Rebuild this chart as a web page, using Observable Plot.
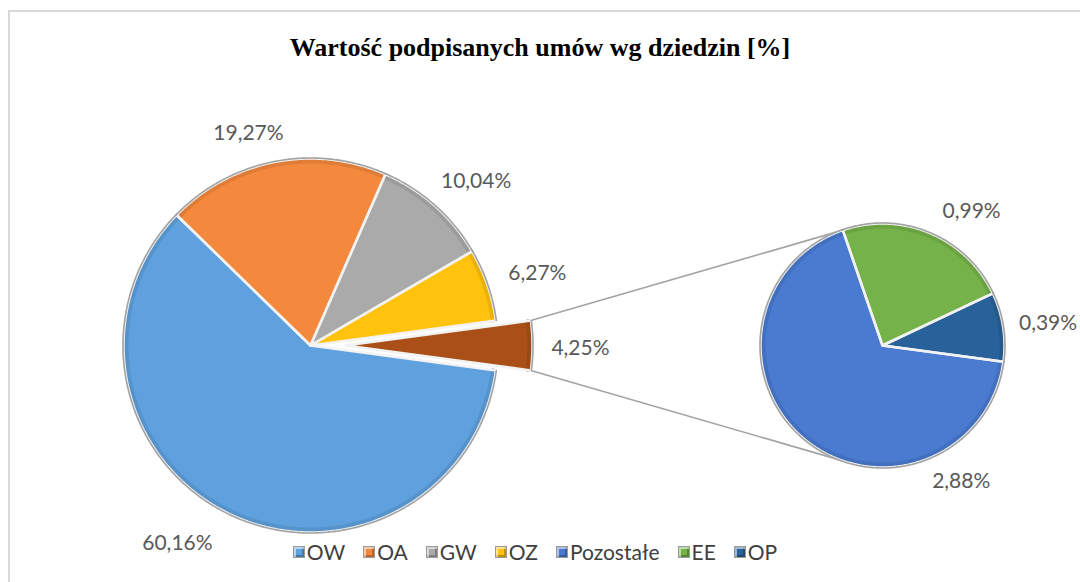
<!DOCTYPE html>
<html>
<head>
<meta charset="utf-8">
<script src="https://cdn.jsdelivr.net/npm/d3@7"></script>
<script src="https://cdn.jsdelivr.net/npm/@observablehq/plot@0.6"></script>
<style>
  html, body { margin: 0; padding: 0; background: #fff; }
  #wrap { position: relative; width: 1080px; height: 582px; overflow: hidden; background: #fff; }
  #frame { position: absolute; left: 8px; top: 10px; width: 1120px; height: 640px; border: 2px solid #d9d9d9; box-sizing: border-box; }
  #chart { position: absolute; left: 0; top: 0; }
  #title { position: absolute; left: 0; top: 33px; width: 1080px; text-align: center; line-height: 30px;
           font: bold 26px "Liberation Serif", "Times New Roman", serif; color: #000; }
  #legend { position: absolute; left: 0; top: 539px; width: 1070px; display: flex; justify-content: center;
            font: 21px Lato, "Open Sans", sans-serif; color: #404040; line-height: 26px; }
  .item { display: flex; align-items: center; margin: 0 9px; }
  .sw { width: 12px; height: 12px; box-sizing: border-box; border: 1px solid #9a9a9a; margin-right: 2px;
        box-shadow: inset 2px 2px 0 rgba(255,255,255,0.55), inset -2px -2px 0 rgba(0,0,0,0.25); }
</style>
</head>
<body>
<div id="wrap">
  <div id="frame"></div>
  <div id="chart"></div>
  <div id="title"></div>
  <div id="legend"></div>
</div>
<script>
// ---------- data ----------
const titleText = "Wartość podpisanych umów wg dziedzin [%]";
const mainCategories = ["OW", "OA", "GW", "OZ", "Pozostałe"];
const mainValues = [60.16, 19.27, 10.04, 6.27, 4.25];
const subCategories = ["Pozostałe", "EE", "OP"];
const subValues = [2.88, 0.99, 0.39];
const legendCategories = ["OW", "OA", "GW", "OZ", "Pozostałe", "EE", "OP"];

// ---------- styles / layout ----------
const mainColors = ["#5fa1de", "#f4883c", "#aaaaaa", "#ffc20d", "#a94f17"];
const subColors = ["#4a7bd0", "#76b24a", "#29629a"];
const legendColors = ["#5fa1de", "#f4883c", "#aaaaaa", "#ffc20d", "#4a7bd0", "#76b24a", "#29629a"];
const W = 1080, H = 582;
const mainPie = {cx: 310, cy: 345, r: 187};
const subPie = {cx: 882, cy: 345, r: 122};
const explodeOther = 35;
// label placement (polar, around each slice's own center): [angle deg, distance px]
const mainLabelPolar = [[236, 238], [106.3, 221], [44.7, 233], [17.6, 238], [-0.7, 235]];
const subLabelPolar = [[-59.9, 157], [56.4, 161], [7.6, 167]];

const fmt = v => d3.format(".2f")(v).replace(".", ",") + "%";
const rad = d => d * Math.PI / 180;

function buildSlices(cats, vals, colors, pie, startDeg, tag) {
  const total = d3.sum(vals);
  let a = startDeg;
  return cats.map((c, i) => {
    const span = vals[i] / total * 360;
    const s = {key: tag + i, cat: c, value: vals[i], a0: a, a1: a - span, mid: a - span / 2,
               color: colors[i], cx: pie.cx, cy: pie.cy, r: pie.r};
    a -= span;
    return s;
  });
}

const otherSpan = mainValues[4] / d3.sum(mainValues) * 360;
const mainSlices = buildSlices(mainCategories, mainValues, mainColors, mainPie, -otherSpan / 2, "m");
// explode the "Pozostałe" slice outward along its mid angle
const oth = mainSlices[4];
oth.cx += explodeOther * Math.cos(rad(oth.mid));
oth.cy -= explodeOther * Math.sin(rad(oth.mid));
const subSlices = buildSlices(subCategories, subValues, subColors, subPie, -otherSpan / 2, "s");
const allSlices = mainSlices.concat(subSlices);

function arcPts(s, r, withCenter) {
  const n = Math.max(2, Math.ceil(Math.abs(s.a1 - s.a0) / 0.5));
  const pts = [];
  if (withCenter) pts.push({key: s.key, x: s.cx, y: s.cy, color: s.color});
  for (let k = 0; k <= n; k++) {
    const a = rad(s.a0 + (s.a1 - s.a0) * k / n);
    pts.push({key: s.key, x: s.cx + r * Math.cos(a), y: s.cy - r * Math.sin(a), color: s.color});
  }
  if (withCenter) pts.push({key: s.key, x: s.cx, y: s.cy, color: s.color});
  return pts;
}

const polys = allSlices.flatMap(s => arcPts(s, s.r, true));
const rims = allSlices.flatMap(s => arcPts(s, s.r + 0.5, false));
const innerBevel = allSlices.flatMap(s => arcPts(s, s.r - 3, false).map(p => ({...p, color: d3.color(s.color).darker(0.6).formatHex()})));

// connector lines from exploded slice corners to the second pie
const subTopAngle = subSlices[0].a1; // end of "Pozostałe" in second pie
const pt = (cx, cy, r, deg) => ({x: cx + r * Math.cos(rad(deg)), y: cy - r * Math.sin(rad(deg))});
const connectors = [
  {k: "top", ...pt(oth.cx, oth.cy, oth.r, oth.a0)},
  {k: "top", ...pt(subPie.cx, subPie.cy, subPie.r, subTopAngle)},
  {k: "bot", ...pt(oth.cx, oth.cy, oth.r, oth.a1)},
  {k: "bot", ...pt(subPie.cx, subPie.cy, subPie.r, -subTopAngle)}
];

const labels = mainSlices.map((s, i) => ({...pt(s.cx, s.cy, mainLabelPolar[i][1], mainLabelPolar[i][0]), text: fmt(s.value)}))
  .concat(subSlices.map((s, i) => ({...pt(s.cx, s.cy, subLabelPolar[i][1], subLabelPolar[i][0]), text: fmt(s.value)})));

const chart = Plot.plot({
  width: W, height: H,
  margin: 0,
  x: {domain: [0, W], range: [0, W], axis: null},
  y: {domain: [0, H], range: [0, H], axis: null},
  color: {type: "identity"},
  style: {background: "transparent", overflow: "visible"},
  marks: [
    Plot.line(connectors, {x: "x", y: "y", z: "k", stroke: "#a3a3a3", strokeWidth: 1.6}),
    Plot.line(polys, {x: "x", y: "y", z: "key", fill: "color", stroke: "none"}),
    Plot.line(innerBevel, {x: "x", y: "y", z: "key", stroke: "color", strokeWidth: 4, strokeOpacity: 0.45}),
    Plot.line(polys, {x: "x", y: "y", z: "key", fill: "none", stroke: "#f2f2f2", strokeWidth: 2.5, strokeLinejoin: "round"}),
    Plot.line(rims, {x: "x", y: "y", z: "key", stroke: "#8e8e8e", strokeWidth: 1.6, strokeOpacity: 0.8}),
    Plot.text(labels, {x: "x", y: "y", text: "text", fill: "#595959", fontSize: 21, fontFamily: "Lato, 'Open Sans', sans-serif"})
  ]
});
document.getElementById("chart").appendChild(chart);

document.getElementById("title").textContent = titleText;
const leg = document.getElementById("legend");
legendCategories.forEach((c, i) => {
  const it = document.createElement("div");
  it.className = "item";
  const sw = document.createElement("span");
  sw.className = "sw";
  sw.style.background = legendColors[i];
  const tx = document.createElement("span");
  tx.textContent = c;
  it.appendChild(sw); it.appendChild(tx);
  leg.appendChild(it);
});
</script>
</body>
</html>
